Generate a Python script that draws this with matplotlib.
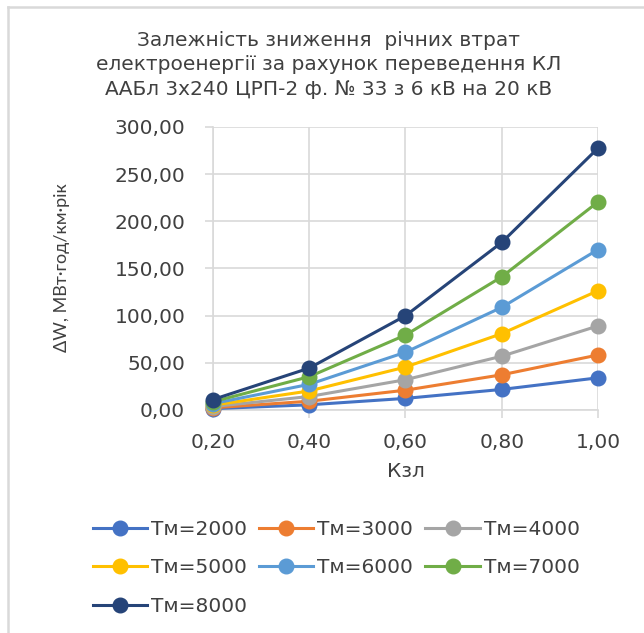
import matplotlib
matplotlib.use("Agg")
import matplotlib.pyplot as plt
from matplotlib.lines import Line2D
from matplotlib.ticker import FuncFormatter, FixedLocator

plt.rcParams['font.family'] = ['DejaVu Sans']

# Load factor values
k_load = [0.20, 0.40, 0.60, 0.80, 1.00]

# Annual loss reduction, MWh/km per year, by max-load hours Tm
tm_labels = ["Тм=2000", "Тм=3000", "Тм=4000", "Тм=5000", "Тм=6000", "Тм=7000", "Тм=8000"]
tm2000 = [1.4, 5.5, 12.3, 21.8, 34.1]
tm3000 = [2.3, 9.3, 21.0, 37.3, 58.3]
tm4000 = [3.6, 14.3, 32.1, 57.0, 89.1]
tm5000 = [5.1, 20.2, 45.5, 80.9, 126.4]
tm6000 = [6.8, 27.2, 61.2, 108.8, 170.0]
tm7000 = [8.8, 35.3, 79.4, 141.1, 220.5]
tm8000 = [11.1, 44.4, 99.9, 177.6, 277.5]
series = [tm2000, tm3000, tm4000, tm5000, tm6000, tm7000, tm8000]

colors = ["#4472C4", "#ED7D31", "#A5A5A5", "#FFC000", "#5B9BD5", "#70AD47", "#264478"]
grid_c = "#D9D9D9"
text_c = "#404040"
fs = 14.5

fig = plt.figure(figsize=(6.44, 6.33), dpi=100)
ax = fig.add_axes([0.3307, 0.3523, 0.5978, 0.4471])

for vals, c, lab in zip(series, colors, tm_labels):
    ax.plot(k_load, vals, color=c, lw=2.2, marker='o', ms=10.5,
            label=lab, clip_on=False, zorder=3)

ax.set_xlim(0.2, 1.0)
ax.set_ylim(0, 300)
ax.xaxis.set_major_locator(FixedLocator(k_load))
ax.yaxis.set_major_locator(FixedLocator([0, 50, 100, 150, 200, 250, 300]))
fmt = FuncFormatter(lambda v, p: f"{v:.2f}".replace('.', ','))
ax.xaxis.set_major_formatter(fmt)
ax.yaxis.set_major_formatter(fmt)

ax.grid(True, color=grid_c, lw=1.2, zorder=0)
for s in ax.spines.values():
    s.set_visible(False)
for side in ('left', 'bottom'):
    ax.spines[side].set_visible(True)
    ax.spines[side].set_color(grid_c)
    ax.spines[side].set_linewidth(1.2)
ax.tick_params(axis='both', colors=grid_c, length=5.5, width=1.2,
               labelcolor=text_c, labelsize=fs)
ax.tick_params(axis='y', pad=14.5)
ax.tick_params(axis='x', pad=11)

ax.set_xlabel("Кзл", fontsize=fs, color=text_c, labelpad=7)
fig.text(0.096, 0.5766, "ΔW, МВт·год/км·рік", rotation=90, fontsize=13,
         color=text_c, ha='center', va='center', family=['Lato', 'DejaVu Sans'])

fig.text(0.51, 0.951, "Залежність зниження  річних втрат\n"
         "електроенергії за рахунок переведення КЛ\n"
         "ААБл 3х240 ЦРП-2 ф. № 33 з 6 кВ на 20 кВ",
         ha='center', va='top', fontsize=fs, color=text_c, linespacing=1.36)

# legend filled row by row: 3 entries per row
h, l = ax.get_legend_handles_labels()
order = [0, 3, 6, 1, 4, 2, 5]
leg = fig.legend([h[i] for i in order], [l[i] for i in order],
                 loc='upper left', bbox_to_anchor=(93 / 644, 1 - 520 / 633),
                 ncol=3, frameon=False, fontsize=fs, handlelength=2.69,
                 handletextpad=0.2, columnspacing=0.6, labelspacing=0.96,
                 borderpad=0, borderaxespad=0, labelcolor=text_c)

# outer chart frame (top and left edges)
fig.add_artist(Line2D([8 / 644, 1.0], [1 - 7 / 633, 1 - 7 / 633], color=grid_c, lw=1.8))
fig.add_artist(Line2D([8 / 644, 8 / 644], [0, 1 - 7 / 633], color=grid_c, lw=1.8))

fig.savefig("out.png", dpi=100, facecolor="white")
